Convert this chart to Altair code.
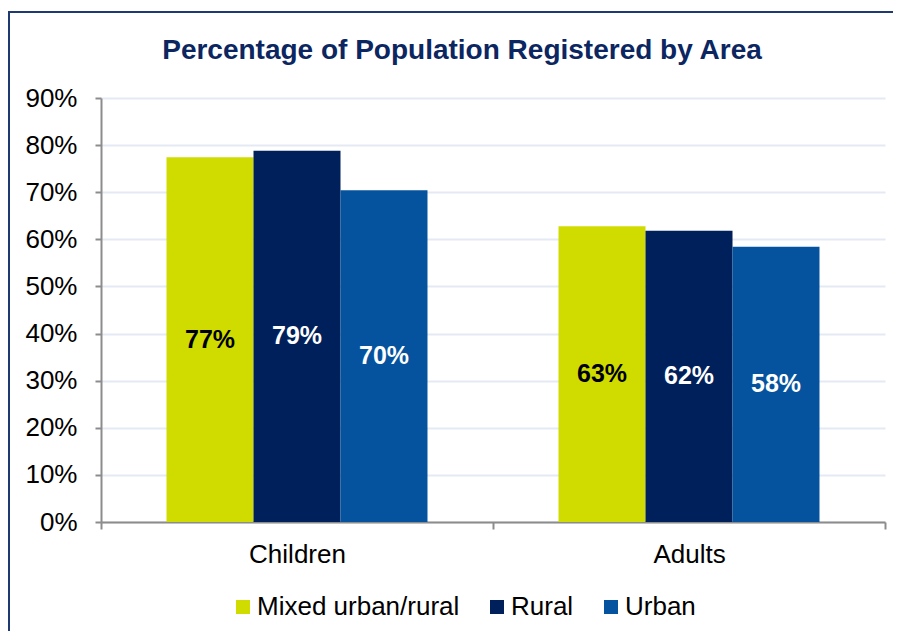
import altair as alt
import pandas as pd

groups = ["Children", "Adults"]
areas = ["Mixed urban/rural", "Rural", "Urban"]
colors = ["#d0dc00", "#00205b", "#05539e"]
label_colors = ["#000000", "#ffffff", "#ffffff"]
children_vals = [0.774, 0.788, 0.704]
adults_vals = [0.628, 0.618, 0.584]

rows = []
for g, vals in zip(groups, [children_vals, adults_vals]):
    for a, v, lc in zip(areas, vals, label_colors):
        rows.append({"group": g, "area": a, "value": v, "lc": lc})
df = pd.DataFrame(rows)

W, H = 784, 424
FONT = "Liberation Sans"

x = alt.X("group:N", sort=groups, title=None,
          scale=alt.Scale(paddingInner=0, paddingOuter=0),
          axis=alt.Axis(labelAngle=0, labelFontSize=26, labelColor="#000000",
                        labelFont=FONT, labelPadding=12,
                        tickBand="extent", tickSize=7, tickColor="#8c8c8c", tickWidth=2,
                        domainColor="#8c8c8c", domainWidth=2, grid=False))
xo = alt.XOffset("area:N", sort=areas,
                 scale=alt.Scale(paddingInner=0, paddingOuter=0.753))
y = alt.Y("value:Q", title=None,
          scale=alt.Scale(domain=[0, 0.9], nice=False),
          axis=alt.Axis(format=".0%", values=[i / 10 for i in range(10)],
                        labelFontSize=26, labelColor="#000000", labelFont=FONT,
                        labelPadding=18, tickSize=6, tickColor="#8c8c8c", tickWidth=2,
                        domainColor="#8c8c8c", domainWidth=2,
                        gridColor="#e4e9f3", gridWidth=2))

bars = alt.Chart(df).mark_bar(size=87).encode(
    x=x, xOffset=xo, y=y,
    color=alt.Color("area:N", sort=areas,
                    scale=alt.Scale(domain=areas, range=colors),
                    legend=alt.Legend(title=None, orient="none", direction="horizontal",
                                      legendX=129, legendY=496,
                                      labelFontSize=26, labelColor="#000000",
                                      labelFont=FONT, labelLimit=400,
                                      symbolType="square", symbolSize=196,
                                      symbolStrokeWidth=0, labelOffset=1,
                                      columnPadding=24)),
)

labels = alt.Chart(df).transform_calculate(
    mid="datum.value / 2"
).mark_text(fontSize=25, fontWeight="bold", font=FONT).encode(
    x=alt.X("group:N", sort=groups),
    xOffset=alt.XOffset("area:N", sort=areas),
    y=alt.Y("mid:Q"),
    text=alt.Text("value:Q", format=".0%"),
    color=alt.Color("lc:N", scale=None, legend=None),
)

frame = alt.Chart(pd.DataFrame({"f": [0]})).mark_rect(
    fill=None, stroke="#1f3a73", strokeWidth=2
).encode(x=alt.value(-92), x2=alt.value(840), y=alt.value(-86), y2=alt.value(570))

chart = alt.layer(frame, bars, labels).properties(
    width=W, height=H,
    autosize=alt.AutoSizeParams(type="none"),
    padding={"left": 93, "top": 90, "right": 8, "bottom": 109},
    title=alt.Title("Percentage of Population Registered by Area",
                    fontSize=28, fontWeight="bold", color="#0b2660",
                    font=FONT, anchor="middle", dx=-31, offset=-54),
).configure_view(stroke=None)

chart.save("out.html", embed_options={"renderer": "svg", "actions": False})
